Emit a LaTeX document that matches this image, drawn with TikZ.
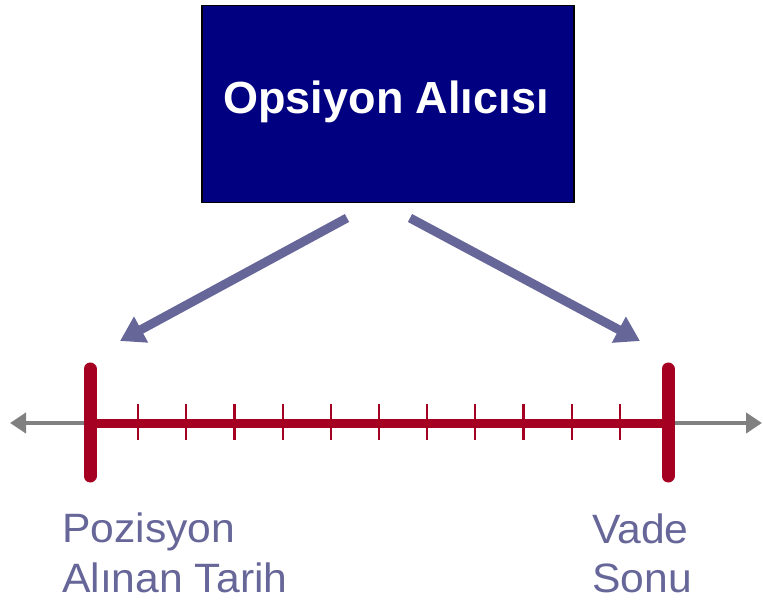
\documentclass[tikz,border=0pt]{standalone}
\usepackage{fontspec}
\setmainfont{Liberation Sans}
\usetikzlibrary{arrows.meta}
\definecolor{navybox}{HTML}{000080}
\definecolor{slate}{HTML}{666699}
\definecolor{timered}{HTML}{A50021}
\definecolor{axisgray}{HTML}{808080}
\tikzset{
  lbl/.style={text=slate, font=\addfontfeature{FakeStretch=1.04}\fontsize{41}{41}\selectfont, anchor=base west, inner sep=0pt},
  bigarrow/.style={draw=slate, line width=9pt, -{Triangle[width=28pt,length=24pt]}},
  axis/.style={draw=axisgray, line width=4.5pt, -{Triangle[width=20pt,length=16pt]}},
  tick/.style={draw=timered, line width=2.2pt},
  bar/.style={draw=timered, line width=13pt, line cap=round},
}
\begin{document}
\begin{tikzpicture}[x=1pt,y=-1pt]
\useasboundingbox (0,0) rectangle (763,601);
% box
\node[draw=black, line width=1.5pt, fill=navybox, minimum width=372pt, minimum height=197pt, anchor=north west, inner sep=0pt] (box) at (201,5) {};
\node[text=white, font=\bfseries\fontsize{45}{45}\selectfont, inner sep=0pt, anchor=base] (title) at (386,114) {Opsiyon Alıcısı};
% arrows
\coordinate (la) at (347,218);
\coordinate (lt) at (120,341);
\coordinate (ra) at (410,218);
\coordinate (rt) at (640,341);
\draw[bigarrow] (la) -- (lt);
\draw[bigarrow] (ra) -- (rt);
% axis
\coordinate (L) at (90,423);
\coordinate (R) at (668,423);
\coordinate (Lend) at (10,423);
\coordinate (Rend) at (762,423);
\draw[axis] (L) -- (Lend);
\draw[axis] (R) -- (Rend);
\draw[draw=timered, line width=9pt] (L) -- (R);
\foreach \k in {1,...,11} {
  \pgfmathsetmacro{\tx}{90+\k*48.17}
  \draw[tick] (\tx,404) -- (\tx,440);
}
\coordinate (Ltop) at (90,369);
\coordinate (Lbot) at (90,476);
\coordinate (Rtop) at (668,369);
\coordinate (Rbot) at (668,476);
\draw[bar] (Ltop) -- (Lbot);
\draw[bar] (Rtop) -- (Rbot);
% labels
\node[lbl] (p1) at (62,542) {Pozisyon};
\node[lbl] (p2) at (62,592) {Alınan Tarih};
\node[lbl] (v1) at (592,543) {Vade};
\node[lbl] (v2) at (592,592) {Sonu};
\end{tikzpicture}
\end{document}
